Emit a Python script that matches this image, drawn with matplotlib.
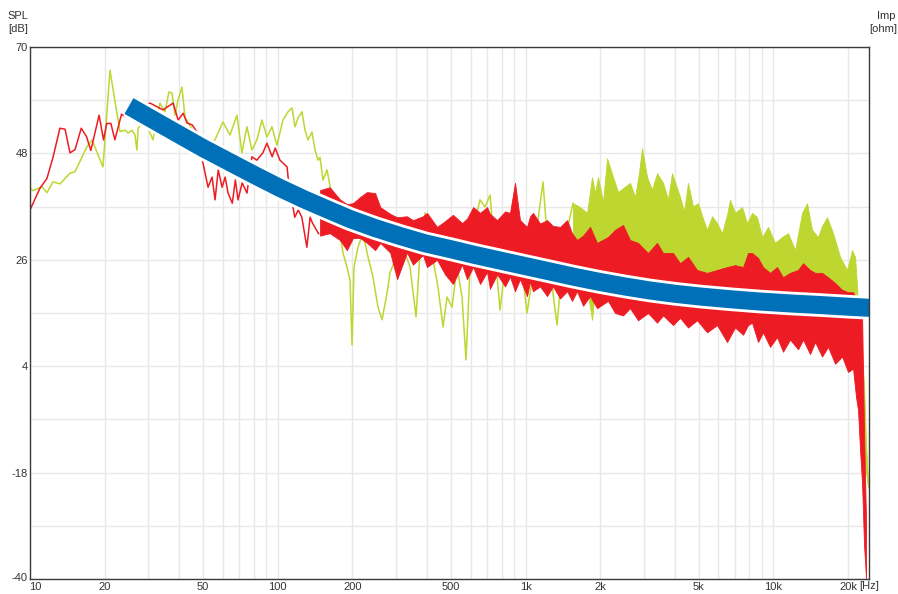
import matplotlib
matplotlib.use("Agg")
import matplotlib.pyplot as plt
import matplotlib.patheffects as pe
import matplotlib.transforms as mtransforms
from matplotlib.ticker import FixedLocator, NullFormatter

plt.rcParams['font.family'] = ['Liberation Sans', 'DejaVu Sans']

# ---------------- data ----------------
# red trace, low-frequency part (single line)
red_lf_freq = [10.0, 10.97, 11.7, 12.4, 13.2, 13.85, 14.5, 15.2, 16.1, 16.9, 17.6, 19.0, 19.8, 20.4,
               21.2, 22.0, 23.4, 24.2, 27.0, 30.5, 34.4, 37.8, 39.6, 41.5, 43.0, 45.1, 47.2, 49.9,
               52.3, 54.3, 55.8, 57.5, 59.6, 61.3, 63.0, 65.5, 67.4, 69.1, 71.8, 75.1, 78.6, 82.3,
               87.0, 90.4, 94.9, 97.6, 102, 109, 110, 117, 121, 125, 131, 135, 138, 146]
red_lf_db = [36.3, 40.8, 42.8, 47.3, 53.2, 53.0, 48.1, 48.8, 53.2, 51.5, 48.6, 55.9, 50.8, 54.2,
             54.2, 50.8, 56.1, 55.6, 57.0, 58.4, 57.0, 58.4, 54.9, 56.3, 54.3, 53.9, 52.4, 46.0,
             41.0, 43.1, 38.4, 44.6, 41.0, 43.1, 39.8, 37.7, 42.5, 38.4, 41.9, 39.8, 47.3, 46.6,
             48.1, 50.1, 47.3, 49.1, 46.6, 45.2, 43.1, 34.8, 36.3, 34.8, 28.6, 34.8, 33.6, 31.4]

# red trace, dense part (upper / lower envelope)
red_freq = [148, 162, 178, 190, 201, 215, 229, 247, 259, 284, 303, 332, 351, 385, 400, 439, 473,
            509, 554, 580, 614, 655, 699, 718, 767, 826, 865, 906, 949, 1013, 1042, 1071, 1143,
            1220, 1290, 1377, 1470, 1539, 1612, 1705, 1819, 1942, 2150, 2296, 2472, 2638, 2842,
            3118, 3390, 3585, 3934, 4198, 4522, 4917, 5395, 5921, 6497, 6998, 7540, 7898, 8197,
            8666, 9079, 9689, 10339, 10933, 11668, 12568, 13166, 14051, 14723, 15709, 16608,
            17729, 18917, 20000, 20953, 21543, 21947, 22360, 22780, 23208, 23641]
red_upper = [40.4, 41.0, 38.5, 37.5, 37.7, 39.0, 40.0, 39.8, 36.9, 35.5, 34.8, 35.0, 34.2, 35.0,
             35.7, 32.8, 34.0, 35.3, 33.6, 34.5, 36.9, 35.7, 36.9, 35.5, 34.2, 36.0, 35.7, 41.9,
             34.2, 32.8, 35.0, 35.7, 33.5, 34.2, 33.0, 32.8, 34.2, 31.5, 30.1, 31.0, 32.8, 29.5,
             30.7, 32.2, 33.2, 30.1, 29.5, 27.4, 29.5, 27.4, 27.4, 25.3, 26.6, 23.9, 23.3, 23.9,
             24.5, 24.9, 24.5, 27.4, 27.4, 26.4, 24.5, 23.3, 24.5, 22.4, 23.3, 23.9, 25.3, 23.9,
             23.3, 23.3, 22.4, 21.2, 19.8, 19.3, 19.3, 18.0, 17.0, 16.0, 15.0, -10.0, -28.0]
red_lower = [31.0, 31.5, 30.1, 28.0, 30.5, 30.5, 29.5, 28.0, 29.5, 27.5, 22.0, 27.5, 25.0, 27.0,
             24.5, 26.0, 23.0, 21.0, 25.0, 22.0, 24.5, 21.0, 23.5, 20.0, 23.0, 20.5, 22.5, 19.5,
             22.0, 18.5, 21.5, 19.5, 20.5, 18.5, 20.5, 18.0, 19.5, 17.5, 19.5, 16.5, 18.5, 16.0,
             17.5, 15.0, 14.5, 16.0, 13.5, 15.0, 13.0, 14.5, 12.5, 14.0, 12.0, 13.5, 11.0, 12.5,
             9.0, 12.0, 10.5, 12.5, 13.0, 9.0, 11.0, 8.0, 10.0, 7.0, 9.5, 7.5, 9.5, 6.5, 9.0, 6.0,
             8.0, 4.5, 6.0, 2.8, 3.5, -2.4, -5.1, -13.3, -20.2, -33.0, -40.0]

# green trace, low/mid-frequency part (single line)
green_lf_freq = [10.0, 10.28, 11.18, 11.71, 12.38, 13.21, 14.50, 15.19, 16.98, 17.79, 19.70, 21.02,
                 22.43, 23.07, 24.17, 24.9, 25.79, 26.52, 27.0, 27.3, 29.0, 31.34, 33.45, 35.05,
                 36.37, 37.40, 38.46, 39.54, 41.04, 42.21, 46.3, 50.8, 55.77, 60.06, 64.09, 68.4,
                 71.65, 75.06, 78.63, 82.37, 86.28, 90.39, 94.68, 99.19, 104.95, 109.92, 114.10,
                 117.34, 120.62, 125.20, 128.76, 132.37, 137.40, 141.31, 145.27, 148.0, 152.2,
                 158.0, 165.5, 170.2, 178.2, 183.2, 190.2, 195.6, 199.3, 203.0, 210.6, 220.7,
                 231.2, 242.2, 253.7, 263.4, 275.9, 283.6, 297.2, 311.3, 326.2, 341.6, 361.2,
                 374.8, 392.7, 403.7, 422.9, 443.0, 464.2, 481.8, 504.7, 528.7, 553.8, 574.7,
                 596.6, 625.1, 654.6, 685.9, 718.4, 752.7, 788.3, 826.0, 865.1, 906.4, 949.3,
                 1013, 1062, 1112, 1175, 1231, 1290, 1339, 1403, 1470, 1554]
green_lf_db = [40.8, 40.3, 41.1, 39.9, 42.1, 41.7, 43.9, 44.2, 49.4, 50.8, 45.2, 65.2,
               56.3, 52.5, 52.8, 52.2, 52.8, 51.8, 48.7, 53.2, 55.0, 50.8, 58.4, 56.6,
               60.7, 60.5, 55.9, 59.0, 61.7, 55.5, 52.0, 50.0, 50.8, 54.5, 51.8, 55.9,
               48.1, 53.5, 48.7, 50.8, 54.9, 51.4, 53.5, 49.7, 54.9, 56.6, 57.4,
               53.5, 55.3, 56.6, 52.8, 50.8, 52.4, 48.7, 46.6, 47.2, 42.5,
               44.6, 39.0, 33.6, 31.5, 27.4, 24.5, 21.8, 8.4, 24.5, 28.6, 31.5,
               26.6, 22.4, 16.2, 13.6, 19.1, 23.3, 26.0, 24.5, 27.4, 24.5, 14.2,
               27.4, 35.7, 30.7, 26.0, 20.4, 12.1, 18.3, 16.2, 24.5, 18.3, 5.3,
               24.5, 34.2, 38.4, 36.9, 39.4, 27.4, 15.6, 24.5, 34.2, 40.4, 27.4,
               15.0, 21.8, 32.8, 42.1, 28.6, 19.1, 12.5, 24.5, 32.2, 37.7]

# green trace, dense part (upper / lower envelope)
green_freq = [1554, 1658, 1770, 1853, 1906, 1959, 2053, 2131, 2253, 2360, 2472, 2638, 2764, 2868,
              2949, 3090, 3237, 3390, 3585, 3755, 3898, 4198, 4357, 4522, 4738, 4963, 5199, 5395,
              5652, 5921, 6203, 6497, 6681, 6998, 7470, 7825, 8197, 8586, 8995, 9510, 10152,
              10832, 11453, 12226, 13045, 13664, 14315, 15134, 15709, 16454, 17399, 18568, 19815,
              20759, 21350, 21745, 22360, 22780, 23208, 23641, 24086]
green_upper = [37.7, 36.9, 35.7, 43.1, 39.8, 43.1, 38.0, 47.0, 43.1, 40.0, 40.8, 41.9, 39.0, 44.0,
               49.1, 43.1, 40.5, 43.9, 41.9, 38.5, 43.9, 39.0, 36.0, 41.9, 37.0, 37.7, 34.5, 32.2,
               35.0, 33.6, 31.5, 35.3, 38.4, 35.7, 36.9, 33.6, 35.7, 34.8, 30.7, 32.8, 29.5,
               30.7, 31.5, 28.0, 35.7, 37.7, 32.2, 30.7, 33.0, 34.8, 31.5, 26.6, 23.9,
               28.0, 26.6, 20.4, 8.8, 6.7, 0.0, -12.0, -20.0]
green_lower = [21.0, 20.0, 20.0, 13.6, 20.0, 20.0, 19.0, 19.0, 19.0, 19.0, 19.0, 19.0, 19.0, 19.0,
               19.0, 19.0, 19.0, 19.0, 19.0, 19.0, 18.0, 18.0, 18.0, 18.0, 18.0, 18.0, 17.5, 17.5,
               17.5, 17.5, 17.5, 17.5, 17.5, 17.5, 17.5, 17.5, 17.5, 17.5, 17.5, 17.5, 16.5,
               16.5, 16.5, 16.5, 16.5, 16.5, 16.5, 16.5, 16.5, 16.5, 16.5, 16.5, 16.5,
               16.5, 16.5, 15.0, 0.0, -8.0, -14.0, -18.0, -21.0]

# blue (impedance) curve
blue_freq = [25.08, 30.48, 38.46, 49.87, 64.09, 80.87, 102.06, 128.76, 162.4, 195.6, 246.8, 311.3,
             392.7, 495.4, 625.1, 788.3, 994.7, 1254.5, 1583, 1996, 2519, 3177, 4009, 5056, 6681,
             8829, 11668, 15419, 20376, 24538]
blue_db = [57.80, 55.32, 52.38, 49.11, 46.18, 43.47, 40.84, 38.42, 36.19, 34.43, 32.57, 30.92,
           29.41, 28.23, 26.99, 25.85, 24.71, 23.58, 22.44, 21.41, 20.48, 19.65, 18.97, 18.41,
           17.85, 17.37, 16.98, 16.65, 16.28, 16.07]

# axis labels / ticks
x_major = [10, 20, 50, 100, 200, 500, 1000, 2000, 5000, 10000, 20000]
x_labels = ['10', '20', '50', '100', '200', '500', '1k', '2k', '5k', '10k', '20k']
y_major = [-40, -18, 4, 26, 48, 70]
y_minor = [-29, -7, 15, 37, 59]

RED = '#ED1C24'
GREEN = '#BED630'
BLUE = '#0070B8'
TXT = '#333333'

# ---------------- figure ----------------
W, H = 898, 594
fig = plt.figure(figsize=(W / 100, H / 100), dpi=100)
ax = fig.add_axes([30 / W, 15 / H, 839 / W, 532 / H])
ax.set_xscale('log')
ax.set_xlim(10, 24300)
ax.set_ylim(-40, 70)

# green
ax.plot(green_lf_freq, green_lf_db, color=GREEN, lw=1.1, zorder=2)
ax.fill_between(green_freq, green_lower, green_upper, color=GREEN, lw=0.6, zorder=2)
# red
ax.plot(red_lf_freq, red_lf_db, color=RED, lw=1.1, zorder=3)
ax.fill_between(red_freq, red_lower, red_upper, color=RED, lw=0.6, zorder=3)
# blue impedance
ax.plot(blue_freq, blue_db, color=BLUE, lw=13.0, solid_capstyle='butt', solid_joinstyle='round',
        zorder=5, path_effects=[pe.Stroke(linewidth=17.0, foreground='white', capstyle='butt'),
                                pe.Normal()])

# ticks / grid
ax.xaxis.set_major_locator(FixedLocator(x_major))
ax.set_xticklabels(x_labels)
minor_x = [m * 10 ** e for e in range(1, 5) for m in range(2, 10)
           if m * 10 ** e < 24300 and m * 10 ** e not in x_major]
ax.xaxis.set_minor_locator(FixedLocator(minor_x))
ax.xaxis.set_minor_formatter(NullFormatter())
ax.yaxis.set_major_locator(FixedLocator(y_major))
ax.set_yticklabels([str(v) for v in y_major])
ax.yaxis.set_minor_locator(FixedLocator(y_minor))
ax.yaxis.set_minor_formatter(NullFormatter())
ax.grid(which='both', color='#e8e8e8', lw=1.0, zorder=0)
ax.set_axisbelow(True)
ax.tick_params(which='both', length=0, labelsize=8, colors=TXT)
ax.tick_params(axis='x', pad=2)
ax.tick_params(axis='y', pad=1.5)
for s in ax.spines.values():
    s.set_color('#3a3a3a')
    s.set_linewidth(1.0)
    s.set_zorder(6)

# keep the first x label clear of the "-40" label
first = ax.get_xticklabels()[0]
first.set_horizontalalignment('left')
first.set_transform(first.get_transform() +
                    mtransforms.ScaledTranslation(-1 / 100, 0, fig.dpi_scale_trans))
lowest = ax.get_yticklabels()[0]
lowest.set_transform(lowest.get_transform() +
                     mtransforms.ScaledTranslation(0, 2 / 100, fig.dpi_scale_trans))

# corner labels
fig.text(18 / W, 1 - 16 / H, 'SPL', ha='center', va='center', fontsize=8, color=TXT)
fig.text(18 / W, 1 - 29 / H, '[dB]', ha='center', va='center', fontsize=8, color=TXT)
fig.text(896 / W, 1 - 16 / H, 'Imp', ha='right', va='center', fontsize=8, color=TXT)
fig.text(897 / W, 1 - 29 / H, '[ohm]', ha='right', va='center', fontsize=8, color=TXT)
fig.text(859 / W, 1 - 586 / H, '[Hz]', ha='left', va='center', fontsize=8, color=TXT)

fig.savefig('out.png', dpi=100)
